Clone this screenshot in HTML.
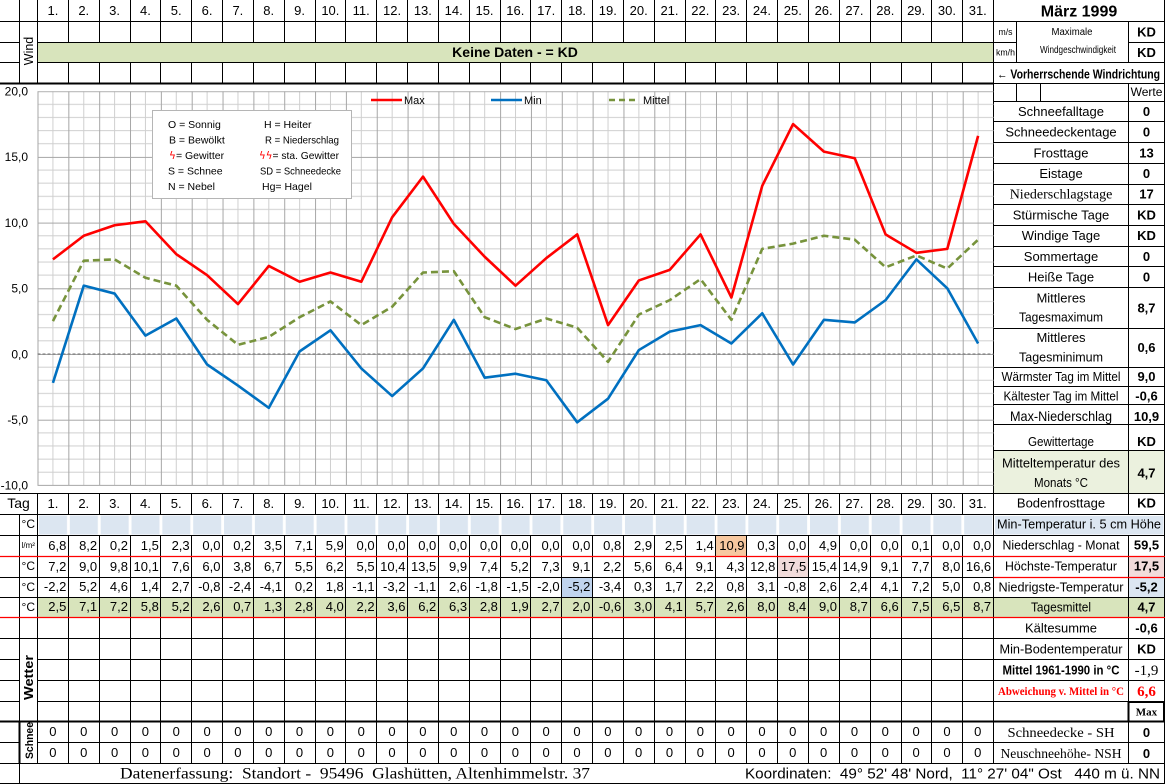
<!DOCTYPE html>
<html><head><meta charset="utf-8">
<style>
html,body{margin:0;padding:0;background:#fff}
body{width:1165px;height:784px;position:relative;overflow:hidden;font-family:"Liberation Sans",sans-serif;color:#000}
svg{position:absolute;left:0;top:0}
.r{position:absolute;left:37.5px;display:flex;height:21px;font-size:13px;line-height:21px;white-space:nowrap}
.r span{flex:none;width:30.84px;text-align:right;padding-right:2px;box-sizing:border-box}
.r.c span{text-align:center;padding:0}
.u{position:absolute;left:19px;width:18.5px;text-align:center;font-size:12px;line-height:21px;height:21px}
</style></head><body>
<svg width="1165" height="784" viewBox="0 0 1165 784">
<defs>
<pattern id="grid" patternUnits="userSpaceOnUse" x="37.5" y="91.2" width="30.84" height="65.7">
<path d="M15.42 0V65.7M0 13.14H30.84M0 26.28H30.84M0 39.42H30.84M0 52.56H30.84" stroke="#cfcfcf" stroke-width="1" fill="none"/>
<path d="M0.5 0V65.7M0 0.5H30.84" stroke="#a6a6a6" stroke-width="1" fill="none"/>
</pattern>
<pattern id="blue" patternUnits="userSpaceOnUse" x="37.5" y="514" width="30.84" height="21">
<rect x="1.5" y="1.5" width="28" height="19" fill="#dce6f1"/>
</pattern>
</defs>

<!-- backgrounds under lines -->
<rect x="37.5" y="597.5" width="956" height="20" fill="#d8e4bc"/>
<rect x="715.5" y="535.5" width="31" height="21" fill="#f7c8a0"/>
<rect x="777.5" y="556.5" width="31" height="21" fill="#f2dcdb"/>
<rect x="561.5" y="577.5" width="31" height="20" fill="#c0d4ee"/>
<rect x="1128.5" y="556.5" width="36" height="21" fill="#f2dcdb"/>
<rect x="1128.5" y="577.5" width="36" height="20" fill="#dce6f1"/>
<rect x="993.5" y="597.5" width="171" height="20" fill="#d8e4bc"/>
<rect x="993.5" y="450.5" width="171" height="43" fill="#ebf1de"/>

<!-- column vertical lines -->
<path stroke="#000" stroke-width="1" fill="none" d="M37.5 0V763M68.5 0V763M99.5 0V763M130.5 0V763M160.5 0V763M191.5 0V763M222.5 0V763M253.5 0V763M284.5 0V763M315.5 0V763M345.5 0V763M376.5 0V763M407.5 0V763M438.5 0V763M469.5 0V763M500.5 0V763M530.5 0V763M561.5 0V763M592.5 0V763M623.5 0V763M654.5 0V763M685.5 0V763M715.5 0V763M746.5 0V763M777.5 0V763M808.5 0V763M839.5 0V763M870.5 0V763M901.5 0V763M931.5 0V763M962.5 0V763M993.5 0V763"/>

<!-- cover chart region -->
<rect x="0" y="84.5" width="993" height="408.5" fill="#fff"/>
<!-- top green row -->
<rect x="38" y="43" width="955" height="19" fill="#d8e4bc"/>
<!-- blue row -->
<rect x="38" y="515" width="955" height="20" fill="#fff"/>
<rect x="37.5" y="514" width="956" height="21" fill="url(#blue)"/>
<rect x="995" y="516" width="168.5" height="18.5" fill="#dce6f1"/>

<!-- horizontal lines -->
<path stroke="#000" stroke-width="1" fill="none" d="
M0 21.5H1165
M0 42.5H19.5M37.5 42.5H1016.5M1128.5 42.5H1165
M0 62.5H19.5M37.5 62.5H1165
M993.5 83.5H1165
M993.5 101.5H1165M993.5 121.5H1165M993.5 142.5H1165M993.5 163.5H1165M993.5 184.5H1165M993.5 204.5H1165M993.5 225.5H1165M993.5 246.5H1165M993.5 266.5H1165M993.5 287.5H1165M993.5 328.5H1165M993.5 367.5H1165M993.5 386.5H1165M993.5 404.5H1165M993.5 424.5H1165M993.5 450.5H1165
M0 493.5H1165M0 514.5H1165M0 535.5H1165M0 577.5H1165M0 597.5H1165M0 638.5H1165
M0 659.5H19.5M37.5 659.5H1165
M0 680.5H19.5M37.5 680.5H1165
M0 701.5H19.5M37.5 701.5H1165
M0 742.5H19.5M37.5 742.5H1165
M0 763.5H1165M0 783.5H1165
M19.5 0V83M19.5 514V784
M1016.5 21V62M1016.5 83V101M1040.5 83V101
M1128.5 21V62M1128.5 83V514M1128.5 535V763
M1164.5 0V784"/>
<path stroke="#000" stroke-width="2" fill="none" d="M0 83.5H993.5M0 721.5H1165M19.5 721V763M1128.5 701V721M1164 701V721M1128 702H1165"/>
<path stroke="#ff0000" stroke-width="1.2" fill="none" d="M0 556.5H1165M0 617.5H1165M993.5 577.5H1165"/>

<!-- chart grid -->
<rect x="37.5" y="91.2" width="956" height="394.2" fill="url(#grid)"/>
<path d="M37.5 485.4H993.5" stroke="#a6a6a6" stroke-width="1"/>
<path d="M37.5 354H993.5" stroke="#6f6f6f" stroke-width="1" stroke-dasharray="3 2"/>

<!-- y-axis labels -->
<g font-size="12" text-anchor="end" fill="#000">
<text x="28" y="95.5">20,0</text>
<text x="28" y="161.2">15,0</text>
<text x="28" y="227">10,0</text>
<text x="28" y="292.7">5,0</text>
<text x="28" y="358.4">0,0</text>
<text x="28" y="424">-5,0</text>
<text x="28" y="489.5">-10,0</text>
</g>

<!-- legend box -->
<rect x="152.5" y="110.5" width="199" height="88" fill="#fff" stroke="#b5b5b5" stroke-width="1"/>
<g font-size="10.5" fill="#000">
<text x="168" y="128">O = Sonnig</text>
<text x="169" y="143.5">B = Bewölkt</text>
<text x="169" y="159"><tspan fill="#ff0000" font-family="DejaVu Sans">ϟ</tspan>= Gewitter</text>
<text x="168" y="174.5">S = Schnee</text>
<text x="168" y="190">N = Nebel</text>
<text x="264" y="128">H = Heiter</text>
<text x="265" y="143.5" textLength="74" lengthAdjust="spacingAndGlyphs">R = Niederschlag</text>
<text x="259" y="159" textLength="80" lengthAdjust="spacingAndGlyphs"><tspan fill="#ff0000" font-family="DejaVu Sans">ϟϟ</tspan>= sta. Gewitter</text>
<text x="260" y="174.5" textLength="81" lengthAdjust="spacingAndGlyphs">SD = Schneedecke</text>
<text x="262" y="190">Hg= Hagel</text>
</g>

<!-- series legend -->
<path d="M371 100H402" stroke="#ff0000" stroke-width="2.5"/>
<text x="404" y="104" font-size="11">Max</text>
<path d="M491 100H522" stroke="#0070c0" stroke-width="2.5"/>
<text x="524" y="104" font-size="11">Min</text>
<path d="M609 100H638" stroke="#77933c" stroke-width="2.5" stroke-dasharray="6 4"/>
<text x="643" y="104" font-size="11">Mittel</text>

<!-- series -->
<polyline fill="none" stroke="#ff0000" stroke-width="2.6" stroke-linejoin="round" points="52.92,259.39 83.76,235.74 114.6,225.23 145.44,221.29 176.28,254.14 207.12,275.16 237.96,304.07 268.8,265.96 299.64,281.73 330.48,272.53 361.32,281.73 392.16,217.34 423,176.61 453.84,223.91 484.68,256.76 515.52,285.67 546.36,258.08 577.2,234.43 608.04,325.09 638.88,280.42 669.72,269.9 700.56,234.43 731.4,297.5 762.24,185.81 793.08,124.05 823.92,151.64 854.76,158.21 885.6,234.43 916.44,252.82 947.28,248.88 978.12,135.88"/>
<polyline fill="none" stroke="#0070c0" stroke-width="2.6" stroke-linejoin="round" points="52.92,382.91 83.76,285.67 114.6,293.56 145.44,335.6 176.28,318.52 207.12,364.51 237.96,385.54 268.8,407.87 299.64,351.37 330.48,330.35 361.32,368.45 392.16,396.05 423,368.45 453.84,319.84 484.68,377.65 515.52,373.71 546.36,380.28 577.2,422.33 608.04,398.68 638.88,350.06 669.72,331.66 700.56,325.09 731.4,343.49 762.24,313.27 793.08,364.51 823.92,319.84 854.76,322.46 885.6,300.13 916.44,259.39 947.28,288.3 978.12,343.49"/>
<polyline fill="none" stroke="#77933c" stroke-width="2.6" stroke-dasharray="7 4" stroke-linejoin="round" points="52.92,321.15 83.76,260.71 114.6,259.39 145.44,277.79 176.28,285.67 207.12,319.84 237.96,344.8 268.8,336.92 299.64,317.21 330.48,301.44 361.32,325.09 392.16,306.7 423,272.53 453.84,271.22 484.68,317.21 515.52,329.03 546.36,318.52 577.2,327.72 608.04,361.88 638.88,314.58 669.72,300.13 700.56,279.1 731.4,319.84 762.24,248.88 793.08,243.62 823.92,235.74 854.76,239.68 885.6,267.28 916.44,255.45 947.28,268.59 978.12,239.68"/>

<!-- rotated labels -->
<text transform="translate(33,51) rotate(-90)" text-anchor="middle" font-size="12.5">Wind</text>
<text transform="translate(33,677.5) rotate(-90)" text-anchor="middle" font-size="13" font-weight="bold" textLength="45" lengthAdjust="spacingAndGlyphs">Wetter</text>
<text transform="translate(33,740.5) rotate(-90)" text-anchor="middle" font-size="11" font-weight="bold" textLength="37" lengthAdjust="spacingAndGlyphs">Schnee</text>

<!-- top green row text -->
<text x="515" y="57" text-anchor="middle" font-size="14" font-weight="bold">Keine Daten -  = KD</text>

<!-- right panel top -->
<text x="1079" y="16.5" text-anchor="middle" font-size="16" font-weight="bold">März 1999</text>
<text x="1005.5" y="35" text-anchor="middle" font-size="9" textLength="14" lengthAdjust="spacingAndGlyphs">m/s</text>
<text x="1005.5" y="55.5" text-anchor="middle" font-size="9" textLength="19" lengthAdjust="spacingAndGlyphs">km/h</text>
<text x="1072" y="35" text-anchor="middle" font-size="10" textLength="41" lengthAdjust="spacingAndGlyphs">Maximale</text>
<text x="1078" y="53" text-anchor="middle" font-size="10" textLength="76" lengthAdjust="spacingAndGlyphs">Windgeschwindigkeit</text>
<g font-size="13" font-weight="bold" text-anchor="middle">
<text x="1146.5" y="36.5">KD</text>
<text x="1146.5" y="57">KD</text>
</g>
<text x="997" y="78.5" font-size="12.5" font-weight="bold" textLength="163" lengthAdjust="spacingAndGlyphs">← Vorherrschende Windrichtung</text>
<text x="1146.5" y="96" text-anchor="middle" font-size="12">Werte</text>

<g font-size="13" text-anchor="middle">
<text x="1061" y="116">Schneefalltage</text>
<text x="1061" y="136.6">Schneedeckentage</text>
<text x="1061" y="157.3">Frosttage</text>
<text x="1061" y="178">Eistage</text>
<text x="1061" y="198.7" font-family="Liberation Serif" font-size="14">Niederschlagstage</text>
<text x="1061" y="219.4">Stürmische Tage</text>
<text x="1061" y="240.1">Windige Tage</text>
<text x="1061" y="260.8">Sommertage</text>
<text x="1061" y="281.5">Heiße Tage</text>
<text x="1061" y="302.5">Mittleres</text>
<text x="1061" y="321.5" textLength="84" lengthAdjust="spacingAndGlyphs">Tagesmaximum</text>
<text x="1061" y="342">Mittleres</text>
<text x="1061" y="361.5" textLength="84" lengthAdjust="spacingAndGlyphs">Tagesminimum</text>
<text x="1061" y="381" textLength="119" lengthAdjust="spacingAndGlyphs">Wärmster Tag im Mittel</text>
<text x="1061" y="400.5" textLength="115" lengthAdjust="spacingAndGlyphs">Kältester Tag im Mittel</text>
<text x="1061" y="421" font-size="14" textLength="102" lengthAdjust="spacingAndGlyphs">Max-Niederschlag</text>
<text x="1061" y="446" textLength="66" lengthAdjust="spacingAndGlyphs">Gewittertage</text>
<text x="1061" y="467.5" textLength="118" lengthAdjust="spacingAndGlyphs">Mitteltemperatur des</text>
<text x="1061" y="487" textLength="54" lengthAdjust="spacingAndGlyphs">Monats °C</text>

<text x="1061" y="507.5">Bodenfrosttage</text>
<text x="1079" y="528.5" textLength="164" lengthAdjust="spacingAndGlyphs">Min-Temperatur i. 5 cm Höhe</text>
<text x="1061" y="549.5" textLength="117" lengthAdjust="spacingAndGlyphs">Niederschlag - Monat</text>
<text x="1061" y="570.5" textLength="112" lengthAdjust="spacingAndGlyphs">Höchste-Temperatur</text>
<text x="1061" y="591.5" textLength="125" lengthAdjust="spacingAndGlyphs">Niedrigste-Temperatur</text>
<text x="1061" y="611.5" textLength="60" lengthAdjust="spacingAndGlyphs">Tagesmittel</text>
<text x="1061" y="632.5" textLength="72" lengthAdjust="spacingAndGlyphs">Kältesumme</text>
<text x="1061" y="653.5" textLength="123" lengthAdjust="spacingAndGlyphs">Min-Bodentemperatur</text>
<text x="1061" y="674.5" font-weight="bold" font-size="12.5" textLength="117" lengthAdjust="spacingAndGlyphs">Mittel 1961-1990 in °C</text>
<text x="1061" y="695" font-family="Liberation Serif" font-weight="bold" font-size="12" fill="#ff0000" textLength="126" lengthAdjust="spacingAndGlyphs">Abweichung v. Mittel in °C</text>
<text x="1061" y="737" font-family="Liberation Serif" font-size="14" textLength="107" lengthAdjust="spacingAndGlyphs">Schneedecke -   SH</text>
<text x="1061" y="758" font-family="Liberation Serif" font-size="14" textLength="121" lengthAdjust="spacingAndGlyphs">Neuschneehöhe- NSH</text>
</g>

<g font-size="13" font-weight="bold" text-anchor="middle">
<text x="1146.5" y="116">0</text>
<text x="1146.5" y="136.6">0</text>
<text x="1146.5" y="157.3">13</text>
<text x="1146.5" y="178">0</text>
<text x="1146.5" y="198.7">17</text>
<text x="1146.5" y="219.4">KD</text>
<text x="1146.5" y="240.1">KD</text>
<text x="1146.5" y="260.8">0</text>
<text x="1146.5" y="281.5">0</text>
<text x="1146.5" y="312.5">8,7</text>
<text x="1146.5" y="352">0,6</text>
<text x="1146.5" y="381">9,0</text>
<text x="1146.5" y="400.5">-0,6</text>
<text x="1146.5" y="421">10,9</text>
<text x="1146.5" y="446">KD</text>
<text x="1146.5" y="477.5">4,7</text>
<text x="1146.5" y="507.5">KD</text>
<text x="1146.5" y="549.5">59,5</text>
<text x="1146.5" y="570.5">17,5</text>
<text x="1146.5" y="591.5">-5,2</text>
<text x="1146.5" y="611.5">4,7</text>
<text x="1146.5" y="632.5">-0,6</text>
<text x="1146.5" y="653.5">KD</text>
<text x="1146.5" y="737">0</text>
<text x="1146.5" y="758">0</text>
</g>
<text x="1146.5" y="675" text-anchor="middle" font-family="Liberation Serif" font-size="15">-1,9</text>
<text x="1146.5" y="696" text-anchor="middle" font-family="Liberation Serif" font-size="15" font-weight="bold" fill="#ff0000">6,6</text>
<text x="1146.5" y="715.5" text-anchor="middle" font-family="Liberation Serif" font-size="11" font-weight="bold">Max</text>

<!-- footer -->
<text x="120" y="778.5" font-family="Liberation Serif" font-size="16" textLength="470" lengthAdjust="spacingAndGlyphs">Datenerfassung:&#160; Standort -&#160; 95496&#160; Glashütten, Altenhimmelstr. 37</text>
<text x="745" y="778.5" font-size="15" textLength="415" lengthAdjust="spacingAndGlyphs">Koordinaten:&#160; 49° 52' 48' Nord,&#160; 11° 27' 04" Ost&#160;&#160; 440 m ü. NN</text>

<text x="18.5" y="508" text-anchor="middle" font-size="14">Tag</text>
</svg>

<div class="r c" style="top:0"><span>1.</span><span>2.</span><span>3.</span><span>4.</span><span>5.</span><span>6.</span><span>7.</span><span>8.</span><span>9.</span><span>10.</span><span>11.</span><span>12.</span><span>13.</span><span>14.</span><span>15.</span><span>16.</span><span>17.</span><span>18.</span><span>19.</span><span>20.</span><span>21.</span><span>22.</span><span>23.</span><span>24.</span><span>25.</span><span>26.</span><span>27.</span><span>28.</span><span>29.</span><span>30.</span><span>31.</span></div>

<div class="r c" style="top:493px"><span>1.</span><span>2.</span><span>3.</span><span>4.</span><span>5.</span><span>6.</span><span>7.</span><span>8.</span><span>9.</span><span>10.</span><span>11.</span><span>12.</span><span>13.</span><span>14.</span><span>15.</span><span>16.</span><span>17.</span><span>18.</span><span>19.</span><span>20.</span><span>21.</span><span>22.</span><span>23.</span><span>24.</span><span>25.</span><span>26.</span><span>27.</span><span>28.</span><span>29.</span><span>30.</span><span>31.</span></div>

<div class="u" style="top:514px">°C</div>
<div class="u" style="top:535px;font-size:8px">l/m²</div>
<div class="u" style="top:556px">°C</div>
<div class="u" style="top:577px">°C</div>
<div class="u" style="top:597px;line-height:20px">°C</div>

<div class="r" style="top:535px"><span>6,8</span><span>8,2</span><span>0,2</span><span>1,5</span><span>2,3</span><span>0,0</span><span>0,2</span><span>3,5</span><span>7,1</span><span>5,9</span><span>0,0</span><span>0,0</span><span>0,0</span><span>0,0</span><span>0,0</span><span>0,0</span><span>0,0</span><span>0,0</span><span>0,8</span><span>2,9</span><span>2,5</span><span>1,4</span><span>10,9</span><span>0,3</span><span>0,0</span><span>4,9</span><span>0,0</span><span>0,0</span><span>0,1</span><span>0,0</span><span>0,0</span></div>

<div class="r" style="top:556px"><span>7,2</span><span>9,0</span><span>9,8</span><span>10,1</span><span>7,6</span><span>6,0</span><span>3,8</span><span>6,7</span><span>5,5</span><span>6,2</span><span>5,5</span><span>10,4</span><span>13,5</span><span>9,9</span><span>7,4</span><span>5,2</span><span>7,3</span><span>9,1</span><span>2,2</span><span>5,6</span><span>6,4</span><span>9,1</span><span>4,3</span><span>12,8</span><span>17,5</span><span>15,4</span><span>14,9</span><span>9,1</span><span>7,7</span><span>8,0</span><span>16,6</span></div>

<div class="r" style="top:577px;line-height:20px"><span>-2,2</span><span>5,2</span><span>4,6</span><span>1,4</span><span>2,7</span><span>-0,8</span><span>-2,4</span><span>-4,1</span><span>0,2</span><span>1,8</span><span>-1,1</span><span>-3,2</span><span>-1,1</span><span>2,6</span><span>-1,8</span><span>-1,5</span><span>-2,0</span><span>-5,2</span><span>-3,4</span><span>0,3</span><span>1,7</span><span>2,2</span><span>0,8</span><span>3,1</span><span>-0,8</span><span>2,6</span><span>2,4</span><span>4,1</span><span>7,2</span><span>5,0</span><span>0,8</span></div>

<div class="r" style="top:597px;line-height:20px"><span>2,5</span><span>7,1</span><span>7,2</span><span>5,8</span><span>5,2</span><span>2,6</span><span>0,7</span><span>1,3</span><span>2,8</span><span>4,0</span><span>2,2</span><span>3,6</span><span>6,2</span><span>6,3</span><span>2,8</span><span>1,9</span><span>2,7</span><span>2,0</span><span>-0,6</span><span>3,0</span><span>4,1</span><span>5,7</span><span>2,6</span><span>8,0</span><span>8,4</span><span>9,0</span><span>8,7</span><span>6,6</span><span>7,5</span><span>6,5</span><span>8,7</span></div>

<div class="r c" style="top:721px"><span>0</span><span>0</span><span>0</span><span>0</span><span>0</span><span>0</span><span>0</span><span>0</span><span>0</span><span>0</span><span>0</span><span>0</span><span>0</span><span>0</span><span>0</span><span>0</span><span>0</span><span>0</span><span>0</span><span>0</span><span>0</span><span>0</span><span>0</span><span>0</span><span>0</span><span>0</span><span>0</span><span>0</span><span>0</span><span>0</span><span>0</span></div>
<div class="r c" style="top:742px"><span>0</span><span>0</span><span>0</span><span>0</span><span>0</span><span>0</span><span>0</span><span>0</span><span>0</span><span>0</span><span>0</span><span>0</span><span>0</span><span>0</span><span>0</span><span>0</span><span>0</span><span>0</span><span>0</span><span>0</span><span>0</span><span>0</span><span>0</span><span>0</span><span>0</span><span>0</span><span>0</span><span>0</span><span>0</span><span>0</span><span>0</span></div>
</body></html>
